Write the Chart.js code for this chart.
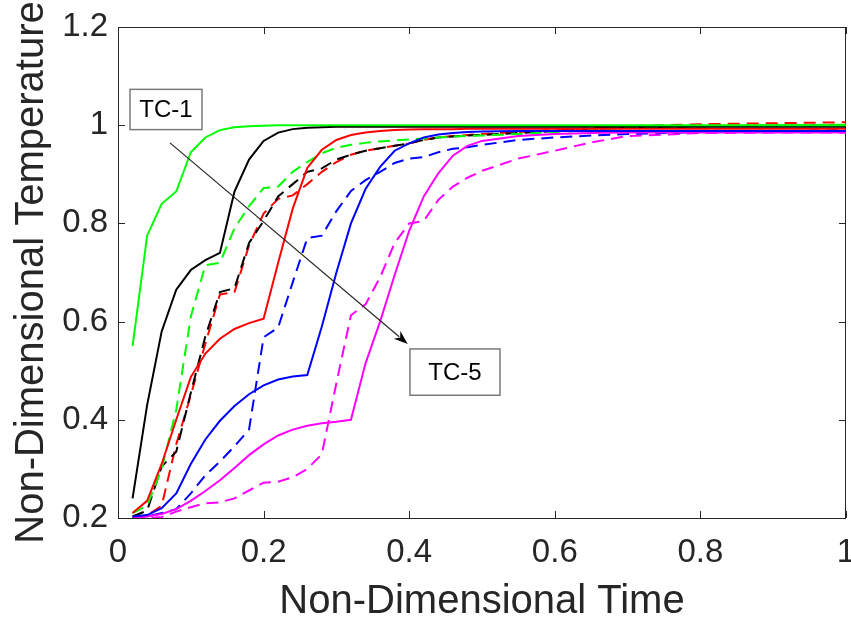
<!DOCTYPE html>
<html>
<head>
<meta charset="utf-8">
<script src="https://cdn.jsdelivr.net/npm/chart.js@4.4.1/dist/chart.umd.min.js"></script>
<style>
    html, body { margin: 0; padding: 0; background: #fff; }
    #wrap { width: 851px; height: 623px; }
</style>
</head>
<body>
<div id="wrap"><canvas id="tempChart" width="851" height="623"></canvas></div>
<script>
// non-dimensional time samples (shared by all series)
const time = [0.02, 0.04, 0.06, 0.08, 0.10, 0.12, 0.14, 0.16, 0.18, 0.20, 0.22, 0.24, 0.26, 0.28, 0.30, 0.32,
    0.34, 0.36, 0.38, 0.40, 0.42, 0.44, 0.46, 0.48, 0.50, 0.55, 0.60, 0.65, 0.70, 0.80, 0.90, 1.00];

// solid lines
const tc1Solid = [0.55, 0.775, 0.84, 0.865, 0.945, 0.975, 0.99, 0.996, 0.998, 0.999, 1.0, 1.0, 1.0, 1.0, 1.0, 1.0,
    1.0, 1.0, 1.0, 1.0, 1.0, 1.0, 1.0, 1.0, 1.0, 1.0, 1.0, 1.0, 1.0, 1.0, 1.0, 1.0];
const tc2Solid = [0.24, 0.43, 0.58, 0.665, 0.705, 0.725, 0.74, 0.865, 0.93, 0.968, 0.985, 0.992, 0.995, 0.996, 0.997, 0.997,
    0.997, 0.997, 0.997, 0.997, 0.997, 0.997, 0.997, 0.997, 0.997, 0.997, 0.997, 0.997, 0.997, 0.997, 0.997, 0.997];
const tc3Solid = [0.21, 0.235, 0.31, 0.40, 0.487, 0.535, 0.565, 0.585, 0.597, 0.606, 0.72, 0.83, 0.913, 0.95, 0.97, 0.98,
    0.985, 0.988, 0.99, 0.991, 0.992, 0.992, 0.992, 0.993, 0.993, 0.993, 0.993, 0.993, 0.993, 0.993, 0.993, 0.993];
const tc4Solid = [0.203, 0.206, 0.22, 0.25, 0.31, 0.36, 0.398, 0.428, 0.452, 0.47, 0.482, 0.488, 0.491, 0.59, 0.70, 0.80,
    0.87, 0.915, 0.948, 0.963, 0.975, 0.981, 0.984, 0.986, 0.987, 0.988, 0.988, 0.988, 0.988, 0.988, 0.988, 0.988];
const tc5Solid = [0.20, 0.203, 0.208, 0.218, 0.235, 0.255, 0.277, 0.302, 0.328, 0.35, 0.368, 0.38, 0.388, 0.393, 0.396, 0.40,
    0.515, 0.60, 0.695, 0.785, 0.855, 0.902, 0.938, 0.958, 0.968, 0.978, 0.982, 0.984, 0.985, 0.985, 0.985, 0.985];

// dashed lines
const tc1Dash = [0.21, 0.225, 0.30, 0.42, 0.61, 0.715, 0.72, 0.79, 0.835, 0.872, 0.875, 0.905, 0.925, 0.943, 0.954, 0.96,
    0.964, 0.967, 0.969, 0.971, 0.973, 0.975, 0.977, 0.978, 0.979, 0.982, 0.986, 0.99, 0.995, 0.998, 1.0, 1.001];
const tc2Dash = [0.203, 0.215, 0.305, 0.335, 0.455, 0.57, 0.66, 0.668, 0.76, 0.805, 0.855, 0.88, 0.905, 0.912, 0.93, 0.94,
    0.948, 0.953, 0.958, 0.963, 0.97, 0.975, 0.977, 0.979, 0.98, 0.984, 0.988, 0.992, 0.995, 0.998, 0.999, 1.0];
const tc3Dash = [0.20, 0.205, 0.225, 0.35, 0.45, 0.555, 0.655, 0.66, 0.755, 0.82, 0.85, 0.857, 0.88, 0.905, 0.925, 0.94,
    0.948, 0.953, 0.958, 0.963, 0.97, 0.975, 0.978, 0.98, 0.982, 0.986, 0.99, 0.994, 0.998, 1.002, 1.004, 1.006];
const tc4Dash = [0.20, 0.203, 0.21, 0.218, 0.25, 0.287, 0.315, 0.346, 0.38, 0.568, 0.588, 0.68, 0.77, 0.775, 0.825, 0.866,
    0.888, 0.905, 0.923, 0.932, 0.935, 0.945, 0.952, 0.955, 0.96, 0.97, 0.975, 0.979, 0.982, 0.986, 0.988, 0.99];
const tc5Dash = [0.20, 0.20, 0.202, 0.213, 0.222, 0.23, 0.232, 0.24, 0.256, 0.272, 0.274, 0.283, 0.30, 0.33, 0.475, 0.613,
    0.635, 0.69, 0.76, 0.80, 0.805, 0.848, 0.875, 0.893, 0.907, 0.932, 0.948, 0.965, 0.978, 0.984, 0.985, 0.985];

const xTickLabels = ['0', '0.2', '0.4', '0.6', '0.8', '1'];
const yTickLabels = ['0.2', '0.4', '0.6', '0.8', '1', '1.2'];

const lineColors = ['#00ff00', '#000000', '#ff0000', '#0000ff', '#ff00ff'];

// annotation positions in data units
const note = {
    tc1Box: { x0: 0.0165, x1: 0.1154, y0: 0.991, y1: 1.073, text: 'TC-1' },
    tc5Box: { x0: 0.401, x1: 0.5247, y0: 0.45, y1: 0.5443, text: 'TC-5' },
    arrow: { x0: 0.0714, y0: 0.964, x1: 0.398, y1: 0.5545 }
};

function toPoints(ys) {
    return ys.map(function(v, i) { return { x: time[i], y: v }; });
}

function makeSet(label, ys, color, dashed) {
    return {
        label: label,
        data: toPoints(ys),
        borderColor: color,
        borderWidth: 2,
        borderDash: dashed ? [12, 7] : [],
        pointRadius: 0,
        fill: false,
        tension: 0
    };
}

const axisColor = '#262626';

const boxPlugin = {
    id: 'boxPlugin',
    beforeDatasetsDraw: function(chart) {
        const ctx = chart.ctx;
        const a = chart.chartArea;
        const xs = chart.scales.x, ys = chart.scales.y;
        const tl = 7;
        ctx.save();
        ctx.strokeStyle = axisColor;
        ctx.lineWidth = 1;
        ctx.strokeRect(Math.round(a.left) + 0.5, Math.round(a.top) + 0.5,
            Math.round(a.right - a.left) - 1, Math.round(a.bottom - a.top));
        ctx.beginPath();
        xs.ticks.forEach(function(t) {
            const px = Math.round(xs.getPixelForValue(t.value)) + 0.5;
            ctx.moveTo(px, a.bottom); ctx.lineTo(px, a.bottom - tl);
            ctx.moveTo(px, a.top); ctx.lineTo(px, a.top + tl);
        });
        ys.ticks.forEach(function(t) {
            const py = Math.round(ys.getPixelForValue(t.value)) + 0.5;
            ctx.moveTo(a.left, py); ctx.lineTo(a.left + tl, py);
            ctx.moveTo(a.right, py); ctx.lineTo(a.right - tl, py);
        });
        ctx.stroke();
        ctx.restore();
    },
    afterDatasetsDraw: function(chart) {
        const ctx = chart.ctx;
        const xs = chart.scales.x, ys = chart.scales.y;
        ctx.save();

        // arrow
        const ar = note.arrow;
        const ax0 = xs.getPixelForValue(ar.x0), ay0 = ys.getPixelForValue(ar.y0);
        const ax1 = xs.getPixelForValue(ar.x1), ay1 = ys.getPixelForValue(ar.y1);
        const ang = Math.atan2(ay1 - ay0, ax1 - ax0);
        const hl = 14, hw = 5;
        ctx.strokeStyle = axisColor;
        ctx.lineWidth = 1.2;
        ctx.beginPath();
        ctx.moveTo(ax0, ay0);
        ctx.lineTo(ax1 - Math.cos(ang) * hl * 0.8, ay1 - Math.sin(ang) * hl * 0.8);
        ctx.stroke();
        ctx.fillStyle = '#000';
        ctx.beginPath();
        ctx.moveTo(ax1, ay1);
        ctx.lineTo(ax1 - Math.cos(ang) * hl - Math.sin(ang) * hw, ay1 - Math.sin(ang) * hl + Math.cos(ang) * hw);
        ctx.lineTo(ax1 - Math.cos(ang) * hl * 0.7, ay1 - Math.sin(ang) * hl * 0.7);
        ctx.lineTo(ax1 - Math.cos(ang) * hl + Math.sin(ang) * hw, ay1 - Math.sin(ang) * hl - Math.cos(ang) * hw);
        ctx.closePath();
        ctx.fill();

        // text boxes
        [note.tc1Box, note.tc5Box].forEach(function(b) {
            const l = xs.getPixelForValue(b.x0), r = xs.getPixelForValue(b.x1);
            const t = ys.getPixelForValue(b.y1), bt = ys.getPixelForValue(b.y0);
            ctx.fillStyle = '#fff';
            ctx.fillRect(l, t, r - l, bt - t);
            ctx.strokeStyle = '#7a7a7a';
            ctx.lineWidth = 1.5;
            ctx.strokeRect(l, t, r - l, bt - t);
            ctx.fillStyle = '#000';
            ctx.font = '24px "Liberation Sans", Arial, sans-serif';
            ctx.textAlign = 'center';
            ctx.textBaseline = 'middle';
            ctx.fillText(b.text, (l + r) / 2, (t + bt) / 2 + 1);
        });
        ctx.restore();
    }
};

const ctx = document.getElementById('tempChart').getContext('2d');
const tempChart = new Chart(ctx, {
    type: 'line',
    data: {
        datasets: [
            makeSet('TC-1', tc1Solid, lineColors[0], false),
            makeSet('TC-2', tc2Solid, lineColors[1], false),
            makeSet('TC-3', tc3Solid, lineColors[2], false),
            makeSet('TC-4', tc4Solid, lineColors[3], false),
            makeSet('TC-5', tc5Solid, lineColors[4], false),
            makeSet('TC-1 (dashed)', tc1Dash, lineColors[0], true),
            makeSet('TC-2 (dashed)', tc2Dash, lineColors[1], true),
            makeSet('TC-3 (dashed)', tc3Dash, lineColors[2], true),
            makeSet('TC-4 (dashed)', tc4Dash, lineColors[3], true),
            makeSet('TC-5 (dashed)', tc5Dash, lineColors[4], true)
        ]
    },
    options: {
        responsive: false,
        animation: false,
        devicePixelRatio: 1,
        layout: { padding: { top: 27, right: 5, left: 0, bottom: 0 } },
        plugins: {
            legend: { display: false },
            tooltip: { enabled: false }
        },
        scales: {
            x: {
                type: 'linear',
                min: 0,
                max: 1,
                grid: { display: false, drawTicks: false },
                border: { display: false },
                afterFit: function(scale) {
                    scale.height = 105;
                    scale.paddingLeft = 0;
                    scale.paddingRight = 0;
                },
                ticks: {
                    stepSize: 0.2,
                    padding: 15,
                    color: axisColor,
                    font: { family: '"Liberation Sans", Arial, sans-serif', size: 33 },
                    maxRotation: 0,
                    callback: function(v, i) { return xTickLabels[i]; }
                },
                title: {
                    display: true,
                    text: 'Non-Dimensional Time',
                    color: axisColor,
                    padding: { top: 0, bottom: -3 },
                    font: { family: '"Liberation Sans", Arial, sans-serif', size: 40 }
                }
            },
            y: {
                type: 'linear',
                min: 0.2,
                max: 1.2,
                grid: { display: false, drawTicks: false },
                border: { display: false },
                afterFit: function(scale) {
                    scale.width = 118;
                    scale.paddingTop = 0;
                    scale.paddingBottom = 0;
                },
                ticks: {
                    stepSize: 0.2,
                    padding: 10,
                    color: axisColor,
                    font: { family: '"Liberation Sans", Arial, sans-serif', size: 33 },
                    callback: function(v, i) { return yTickLabels[i]; }
                },
                title: {
                    display: true,
                    text: 'Non-Dimensional Temperature',
                    color: axisColor,
                    padding: { top: 8, bottom: 0 },
                    font: { family: '"Liberation Sans", Arial, sans-serif', size: 40 }
                }
            }
        }
    },
    plugins: [boxPlugin]
});
</script>
</body>
</html>
